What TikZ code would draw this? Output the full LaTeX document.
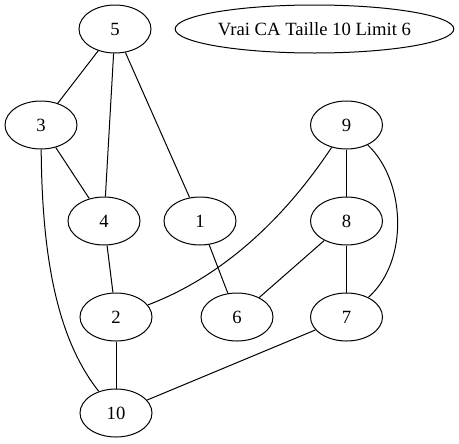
\documentclass[tikz,border=0pt]{standalone}
\usepackage{fontspec}
\setmainfont{Liberation Serif}
\usetikzlibrary{shapes.geometric}
\begin{document}
\begin{tikzpicture}[x=0.75pt,y=-0.75pt,
  vtx/.style={draw,ellipse,line width=0.75pt,minimum width=54pt,minimum height=36pt,inner sep=0pt,font=\fontsize{14pt}{16pt}\selectfont},
  edge/.style={line width=0.75pt}]
\useasboundingbox (0,0) rectangle (459,443);
\node[vtx] (n5) at (115,29) {5};
\node[vtx,minimum width=209pt] (lab) at (314.5,29) {Vrai CA Taille 10 Limit 6};
\node[vtx] (n3) at (41,125) {3};
\node[vtx] (n9) at (346.5,125) {9};
\node[vtx] (n4) at (104,221) {4};
\node[vtx] (n1) at (200,221) {1};
\node[vtx] (n8) at (346.5,221) {8};
\node[vtx] (n2) at (116,317) {2};
\node[vtx] (n6) at (237,317) {6};
\node[vtx] (n7) at (346.5,317) {7};
\node[vtx] (n10) at (116,413) {10};
\draw[edge] (n5) -- (n3);
\draw[edge] (n5) -- (n4);
\draw[edge] (n5) -- (n1);
\draw[edge] (n3) -- (n4);
\draw[edge] (n3) .. controls (42,260) and (58,340) .. (n10);
\draw[edge] (n9) -- (n8);
\draw[edge] (n9) .. controls (300,195) and (240,270) .. (n2);
\draw[edge] (n9) .. controls (405,180) and (410,260) .. (n7);
\draw[edge] (n4) -- (n2);
\draw[edge] (n1) -- (n6);
\draw[edge] (n8) -- (n6);
\draw[edge] (n8) -- (n7);
\draw[edge] (n2) -- (n10);
\draw[edge] (n7) -- (n10);
\end{tikzpicture}
\end{document}
